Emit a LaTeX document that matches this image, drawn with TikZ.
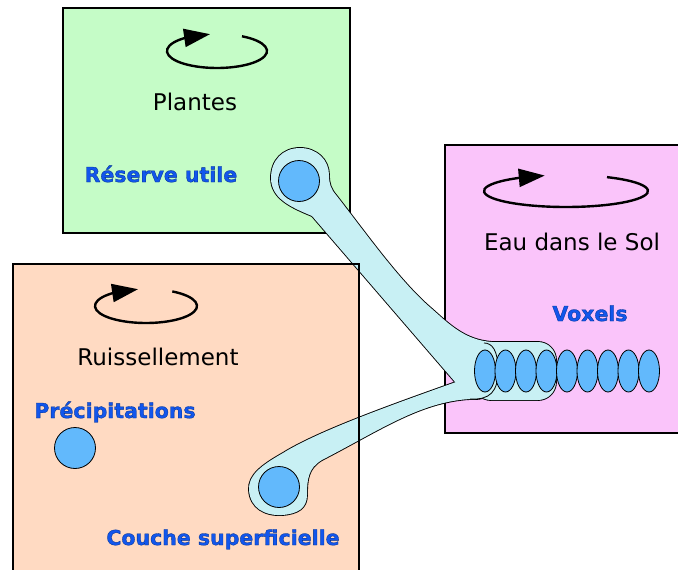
\documentclass[tikz,border=0pt]{standalone}
\usepackage{fontspec}
\setmainfont{DejaVu Sans}
\newfontfamily\tagfont[FakeBold=1.5]{DejaVu Sans Bold}
\usetikzlibrary{positioning,shapes.geometric,arrows.meta,bending}

\definecolor{plantgreen}{RGB}{197,252,199}
\definecolor{soilpink}{RGB}{250,196,250}
\definecolor{runpeach}{RGB}{255,218,194}
\definecolor{tubecyan}{RGB}{200,240,244}
\definecolor{dropblue}{RGB}{98,185,252}
\definecolor{tagblue}{RGB}{18,86,236}

% outlines of the water pipes
\newcommand{\tubevox}{(473,342) rectangle (556,400)}
\newcommand{\tubetop}{(462,390) -- (312,216) .. controls (290,207) and (271,198) .. (271,178) .. controls (271,160) and (283,148) .. (300,148) .. controls (317,148) and (329,160) .. (329,175) .. controls (329,184) and (331,189) .. (336,195) .. controls (365,232) and (400,282) .. (432,309) .. controls (450,325) and (465,340) .. (492,342) -- (492,385) -- cycle}
\newcommand{\tubelow}{(456,382) .. controls (400,402) and (320,430) .. (283,453) .. controls (262,465) and (248,475) .. (249,490) .. controls (250,508) and (265,516) .. (282,515) .. controls (298,514) and (307,508) .. (307,495) .. controls (307,480) and (308,468) .. (322,460) .. controls (380,430) and (420,402) .. (470,399) .. controls (490,400) and (498,392) .. (498,370) .. controls (498,350) and (492,343) .. (484,343) .. controls (474,343) and (468,352) .. (464,366) .. controls (461,375) and (459,380) .. (456,382) -- cycle}
\newcommand{\tagedge}{\special{pdf:literal direct 0 0.18 0.55 RG}}

\begin{document}
\begin{tikzpicture}[x=1pt, y=-1pt,
  box/.style = {draw, line width=2pt, inner sep=0pt, outer sep=0pt},
  title/.style = {anchor=base, font=\fontsize{23}{27}\selectfont},
  tag/.style = {anchor=base, text=tagblue, font=\tagfont\fontsize{20.5}{24}\selectfont},
  spin/.style = {line width=2.4pt, -{Triangle[length=26pt,width=18pt]}},
  drop/.style = {draw, circle, fill=dropblue, line width=0.8pt, minimum size=41pt, inner sep=0pt},
  voxel/.style = {draw, ellipse, fill=dropblue, line width=0.8pt, minimum width=21pt, minimum height=42pt, inner sep=0pt, outer sep=0pt}]
\useasboundingbox (0,0) rectangle (678,570);
\clip (0,0) rectangle (678,570);

% compartments
\node[box, fill=plantgreen, minimum width=287pt, minimum height=225pt] (plantes) at (206.5,120.5) {};
\node[box, fill=soilpink, minimum width=260pt, minimum height=288pt] (sol) at (575,289) {};
\node[box, draw=none, fill=runpeach, minimum width=346pt, minimum height=326pt] (ruis) at (186,427) {};

% turning arrows
\draw[spin] (217,51) ++(-60:50 and 17) arc[start angle=-60, end angle=262, x radius=50, y radius=17];
\draw[spin] (566,191) ++(-60:82 and 16) arc[start angle=-60, end angle=255, x radius=82, y radius=16];
\draw[spin] (146,306) ++(-59:51 and 17) arc[start angle=-59, end angle=261, x radius=51, y radius=17];

\node[title] (tplantes) at (195,110) {Plantes};
\node[title] (tsol) at (572,250) {Eau dans le Sol};
\node[title] (truis) at (158,365) {Ruissellement};

% pipes
\draw[line width=1.8pt, rounded corners=18pt] \tubevox;
\draw[line width=1.8pt] \tubetop;
\draw[line width=1.8pt] \tubelow;
\fill[tubecyan, rounded corners=18pt] \tubevox;
\fill[tubecyan] \tubetop;
\fill[tubecyan] \tubelow;
\draw[line width=0.8pt] (470,399) .. controls (490,400) and (498,392) .. (498,370) .. controls (498,350) and (492,343) .. (484,343);

\draw[line width=2pt] (ruis.north west) rectangle (ruis.south east);

% reservoirs
\node[drop] (reserve) at (299,181) {};
\node[drop] (precip) at (75,448) {};
\node[drop] (couche) at (279,487) {};

\node[voxel] (v1) at (485,371) {};
\node[voxel, right=-0.5pt of v1] (v2) {};
\node[voxel, right=-0.5pt of v2] (v3) {};
\node[voxel, right=-0.5pt of v3] (v4) {};
\node[voxel, right=-0.5pt of v4] (v5) {};
\node[voxel, right=-0.5pt of v5] (v6) {};
\node[voxel, right=-0.5pt of v6] (v7) {};
\node[voxel, right=-0.5pt of v7] (v8) {};
\node[voxel, right=-0.5pt of v8] (v9) {};

\node[tag] (treserve) at (161,182) {\tagedge Réserve utile};
\node[tag] (tvox) at (590,321) {\tagedge Voxels};
\node[tag] (tprecip) at (115,418) {\tagedge Précipitations};
\node[tag] (tcouche) at (223,545) {\tagedge Couche superficielle};
\end{tikzpicture}
\end{document}
